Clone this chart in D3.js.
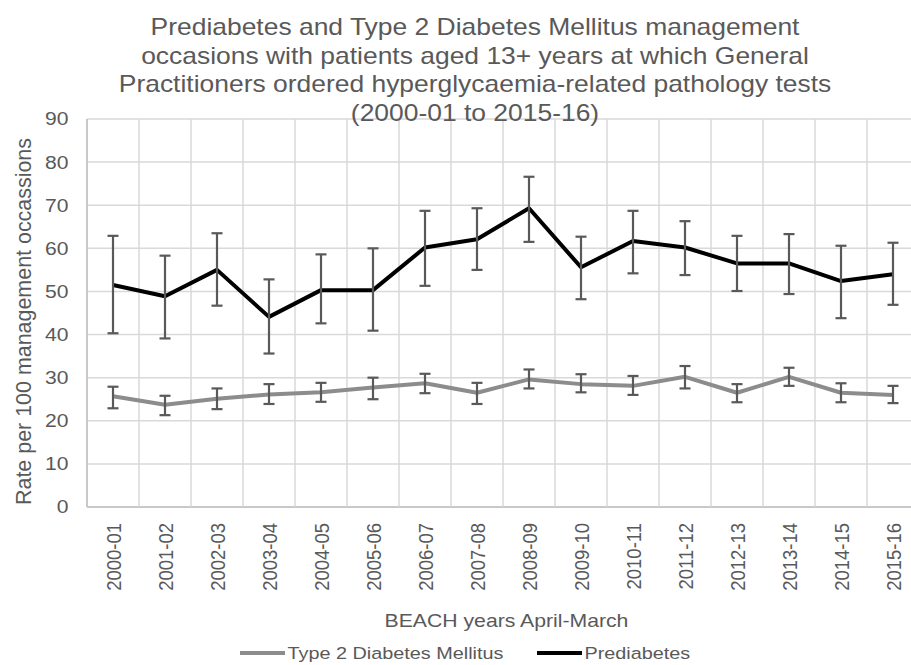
<!DOCTYPE html>
<html lang="en">

<head>
    <meta charset="UTF-8">
    <title>Prediabetes and T2DM pathology tests</title>
    <style>
        body { margin: 0; background: #fff; }
        svg text { font-family: "Liberation Sans", Arial, sans-serif; fill: #595959; }
    </style>
</head>

<body>
    <div id="chart">
        <svg width="911" height="665"></svg>
    </div>
    <script src="https://cdn.jsdelivr.net/npm/d3@7"></script>
    <script>
        // data
        const years = ["2000-01", "2001-02", "2002-03", "2003-04", "2004-05", "2005-06", "2006-07", "2007-08",
            "2008-09", "2009-10", "2010-11", "2011-12", "2012-13", "2013-14", "2014-15", "2015-16"];

        const preValues = [51.5, 48.9, 55.0, 44.1, 50.3, 50.3, 60.2, 62.1, 69.3, 55.6, 61.7, 60.2, 56.5, 56.5, 52.4, 54.0];
        const preLow = [40.3, 39.1, 46.7, 35.6, 42.6, 40.9, 51.3, 55.0, 61.5, 48.2, 54.2, 53.8, 50.1, 49.4, 43.8, 46.9];
        const preHigh = [62.9, 58.3, 63.5, 52.8, 58.6, 60.0, 68.7, 69.3, 76.6, 62.7, 68.7, 66.3, 62.9, 63.3, 60.6, 61.3];

        const t2Values = [25.7, 23.7, 25.1, 26.1, 26.6, 27.7, 28.7, 26.5, 29.6, 28.5, 28.1, 30.2, 26.5, 30.2, 26.5, 26.0];
        const t2Low = [22.9, 21.3, 22.7, 23.9, 24.4, 25.0, 26.4, 23.9, 27.5, 26.6, 26.0, 27.5, 24.3, 28.1, 24.3, 24.1];
        const t2High = [27.9, 25.8, 27.5, 28.5, 28.8, 30.0, 30.9, 28.8, 31.9, 30.8, 30.4, 32.7, 28.5, 32.3, 28.7, 28.1];

        const yTicks = [0, 10, 20, 30, 40, 50, 60, 70, 80, 90];

        const titleLines = [
            "Prediabetes and Type 2 Diabetes Mellitus management",
            "occasions with patients aged 13+ years at which General",
            "Practitioners ordered hyperglycaemia-related pathology tests",
            "(2000-01 to 2015-16)"
        ];

        const series = [
            { name: "Type 2 Diabetes Mellitus", values: t2Values, low: t2Low, high: t2High, color: "#8c8c8c" },
            { name: "Prediabetes", values: preValues, low: preLow, high: preHigh, color: "#000000" }
        ];

        var svg = d3.select("svg");
        var plotLeft = 87, plotTop = 119, plotBottom = 507, bandW = 52;
        var k = 1.14; // text in the original is a little wider than tall

        var x = d3.scaleBand()
            .domain(years)
            .range([plotLeft, plotLeft + bandW * years.length]);

        var y = d3.scaleLinear()
            .domain([0, 90])
            .range([plotBottom, plotTop]);

        function stretched(g, px, py, extra) {
            return g.append("g").attr("transform", "translate(" + px + "," + py + ") scale(" + k + ",1)" + (extra || ""));
        }

        // grid
        var grid = svg.append("g");
        grid.selectAll("line.h")
            .data(yTicks)
            .enter()
            .append("line")
            .attr("x1", plotLeft).attr("x2", 911)
            .attr("y1", d => y(d)).attr("y2", d => y(d))
            .attr("stroke", d => d == 0 ? "#c8c8c8" : "#d9d9d9")
            .attr("stroke-width", d => d == 0 ? 2 : 1.5);
        grid.selectAll("line.v")
            .data(years.map(d => x(d)).concat([x.range()[1]]))
            .enter()
            .append("line")
            .attr("x1", d => d).attr("x2", d => d)
            .attr("y1", plotTop).attr("y2", plotBottom)
            .attr("stroke", (d, i) => i == 0 ? "#c8c8c8" : "#d9d9d9")
            .attr("stroke-width", (d, i) => i == 0 ? 2 : 1.5);

        // y tick labels
        yTicks.forEach(t => {
            stretched(svg, 68.5, y(t)).append("text")
                .attr("dy", "0.35em")
                .attr("text-anchor", "end")
                .style("font-size", "18.5px")
                .text(t);
        });

        // x tick labels
        years.forEach(yr => {
            stretched(svg, x(yr) + bandW / 2 + 7.5, 523, " rotate(-90)").append("text")
                .attr("text-anchor", "end")
                .style("font-size", "18.5px")
                .text(yr);
        });

        // lines
        var line = d3.line()
            .x((d, i) => x(years[i]) + bandW / 2)
            .y(d => y(d));

        series.forEach(s => {
            svg.append("path")
                .attr("d", line(s.values))
                .attr("fill", "none")
                .attr("stroke", s.color)
                .attr("stroke-width", 4)
                .attr("stroke-linejoin", "round");
        });

        // error bars
        series.forEach(s => {
            var eb = svg.append("g")
                .attr("stroke", "#595959")
                .attr("stroke-width", 2.2);
            years.forEach((yr, i) => {
                var cx = x(yr) + bandW / 2;
                eb.append("line").attr("x1", cx).attr("x2", cx).attr("y1", y(s.low[i])).attr("y2", y(s.high[i]));
                eb.append("line").attr("x1", cx - 5.5).attr("x2", cx + 5.5).attr("y1", y(s.low[i])).attr("y2", y(s.low[i]));
                eb.append("line").attr("x1", cx - 5.5).attr("x2", cx + 5.5).attr("y1", y(s.high[i])).attr("y2", y(s.high[i]));
            });
        });

        // title
        titleLines.forEach((t, i) => {
            stretched(svg, 475, 35 + i * 28.7).append("text")
                .attr("text-anchor", "middle")
                .style("font-size", "23.2px")
                .text(t);
        });

        // axis titles
        stretched(svg, 31, 321.5, " rotate(-90)").append("text")
            .attr("text-anchor", "middle")
            .style("font-size", "19px")
            .attr("textLength", 367)
            .attr("lengthAdjust", "spacingAndGlyphs")
            .text("Rate per 100 management occassions");

        stretched(svg, 506.5, 627).append("text")
            .attr("text-anchor", "middle")
            .style("font-size", "18.6px")
            .text("BEACH years April-March");

        // legend
        var legX = [240, 537];
        series.forEach((s, i) => {
            svg.append("line")
                .attr("x1", legX[i]).attr("x2", legX[i] + 45)
                .attr("y1", 653).attr("y2", 653)
                .attr("stroke", s.color).attr("stroke-width", 4);
            stretched(svg, legX[i] + 47.5, 653).append("text")
                .attr("dy", "0.35em")
                .style("font-size", "17.4px")
                .text(s.name);
        });
    </script>
</body>

</html>
